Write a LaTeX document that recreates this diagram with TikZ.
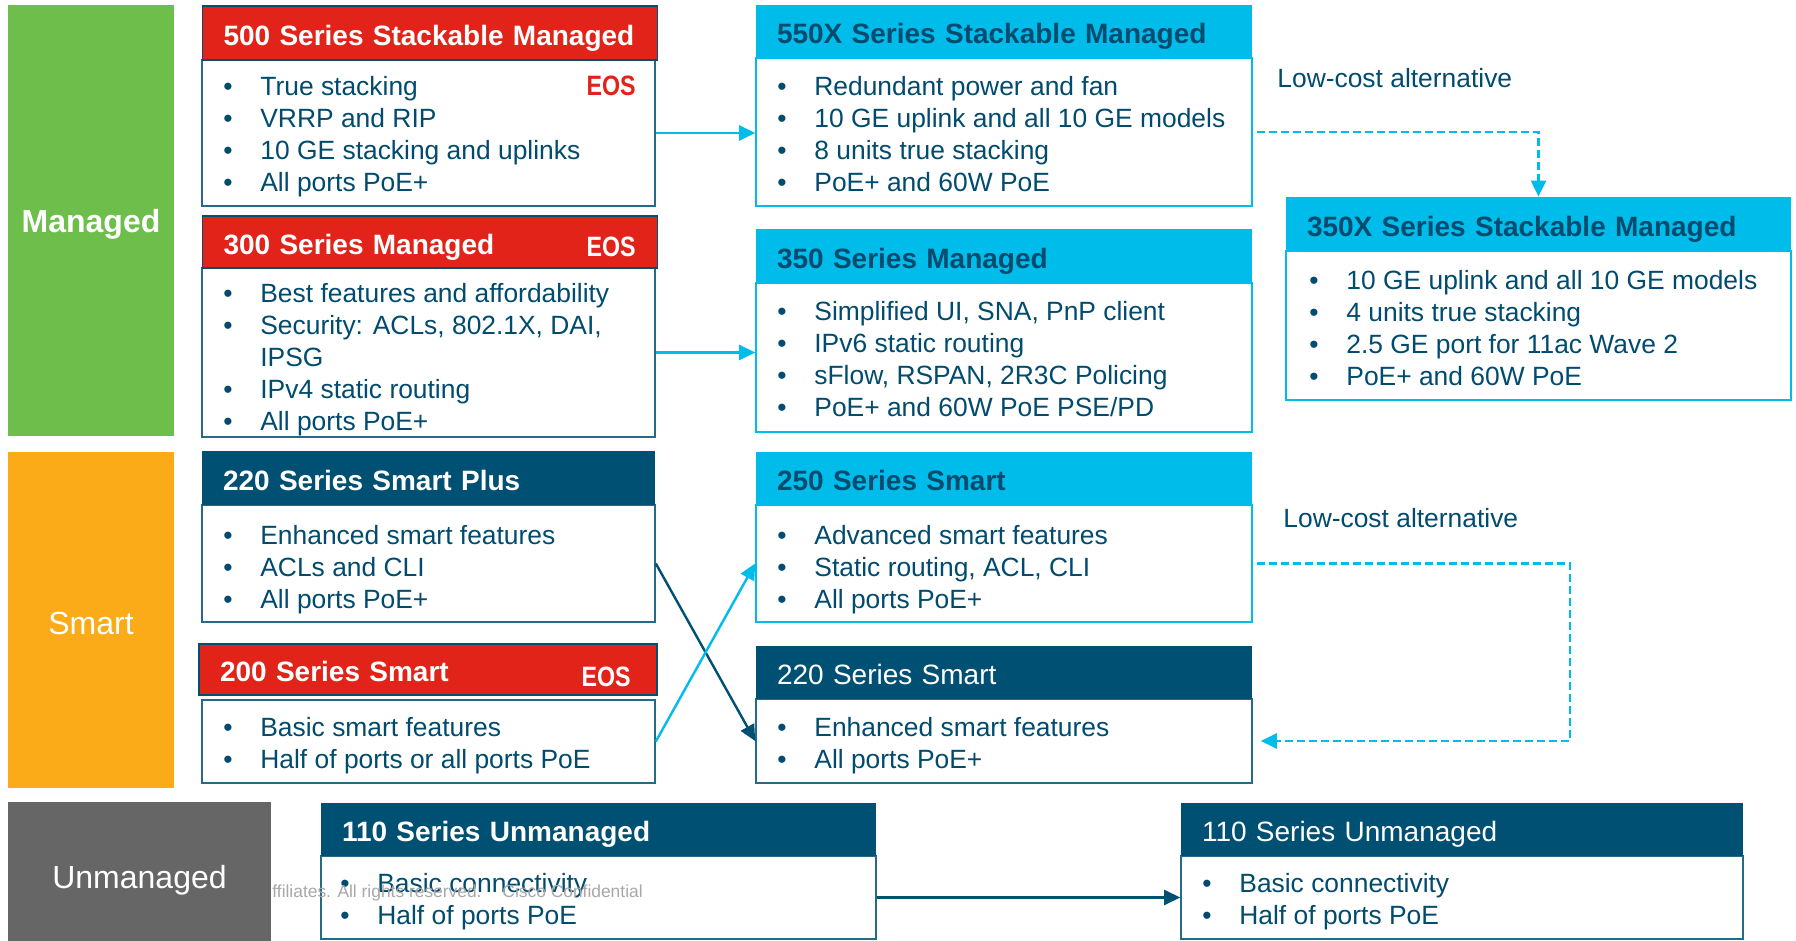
\documentclass[tikz,border=0pt]{standalone}
\usepackage{fontspec}
\setmainfont{Liberation Sans}
\usetikzlibrary{arrows.meta}
\definecolor{cred}{HTML}{E2231A}
\definecolor{ccyan}{HTML}{00BCEB}
\definecolor{cdark}{HTML}{005073}
\definecolor{ctext}{HTML}{004B6E}
\definecolor{cgreen}{HTML}{6DBE4B}
\definecolor{corange}{HTML}{FBAB18}
\definecolor{cgrey}{HTML}{666666}
\definecolor{cwm}{HTML}{A8A8A8}
\newcommand\bul[1]{\hbox{\makebox[18.5pt][l]{•}#1}}
\newcommand\cont[1]{\hbox{\hspace{18.5pt}#1}}
\begin{document}
\begin{tikzpicture}[x=0.5pt,y=-0.5pt,
  hdr/.style={inner xsep=10.5pt, inner ysep=0pt, align=left, text height=13.4pt, text depth=1pt, font=\fontsize{14}{16}\selectfont\bfseries},
  hdrred/.style={hdr, fill=cred, draw=cdark, line width=0.6pt, text=white},
  hdrcyan/.style={hdr, fill=ccyan, text=ctext},
  hdrdark/.style={hdr, fill=cdark, text=white},
  hdrdarkn/.style={hdrdark, font=\fontsize{14}{16}\selectfont},
  bodyd/.style={draw=cdark!85, line width=0.8pt, fill=white, inner sep=0pt},
  bodyc/.style={draw=ccyan, line width=0.8pt, fill=white, inner sep=0pt},
  blist/.style={inner sep=0pt, anchor=base west, text=ctext, font=\fontsize{13.2}{16}\selectfont},
  bar/.style={inner sep=0pt, text=white, font=\fontsize{16}{18}\selectfont},
  eos/.style={inner sep=0pt, anchor=base east, font=\fontsize{14}{16}\selectfont\bfseries, xscale=0.83},
  lbl/.style={inner sep=0pt, anchor=base west, text=ctext, font=\fontsize{13.2}{16}\selectfont},
  conn/.style={line width=1.2pt, -{Triangle[length=8pt,width=7.5pt]}},
  dconn/.style={line width=1.1pt, ccyan, dash pattern=on 4pt off 2pt, -{Triangle[length=8pt,width=7.5pt]}}
]
\useasboundingbox (0,0) rectangle (1796,941);
% side bars
\node[bar, fill=cgreen, minimum width=83pt, minimum height=215.5pt, font=\fontsize{16}{18}\selectfont\bfseries] (managed) at (91,220.5) {\raisebox{-1.7pt}[\height][\depth]{Managed}};
\node[bar, fill=corange, minimum width=83pt, minimum height=168pt] (smart) at (91,620) {\raisebox{-1.7pt}[\height][\depth]{Smart}};
\node[bar, fill=cgrey, minimum width=131.5pt, minimum height=69.5pt] (unmanaged) at (139.5,871.5) {\raisebox{-4.2pt}[\height][\depth]{Unmanaged}};
% bodies
\node[bodyd, minimum width=226.5pt, minimum height=73pt] (b500) at (428.5,133) {};
\node[bodyd, minimum width=226.5pt, minimum height=84.5pt] (b300) at (428.5,352.5) {};
\node[bodyd, minimum width=226.5pt, minimum height=58.5pt] (b220p) at (428.5,563.5) {};
\node[bodyd, minimum width=226.5pt, minimum height=41.5pt] (b200) at (428.5,741.5) {};
\node[bodyc, minimum width=248pt, minimum height=74pt] (b550) at (1004,132) {};
\node[bodyc, minimum width=248pt, minimum height=74.5pt] (b350) at (1004,357.5) {};
\node[bodyc, minimum width=248pt, minimum height=58.5pt] (b250) at (1004,563.5) {};
\node[bodyd, minimum width=248pt, minimum height=42pt] (b220s) at (1004,741) {};
\node[bodyc, minimum width=252.5pt, minimum height=74.5pt] (b350x) at (1538.5,325.5) {};
\node[bodyd, minimum width=277.5pt, minimum height=41.5pt] (b110l) at (598.5,897.5) {};
\node[bodyd, minimum width=281pt, minimum height=41.5pt] (b110r) at (1462,897.5) {};
% headers
\node[hdrred, text width=206.5pt, minimum height=27pt] (h500) at (430,33) {500 Series Stackable Managed};
\node[hdrred, text width=206.5pt, minimum height=26pt] (h300) at (430,242) {300 Series Managed};
\node[hdrdark, text width=205.5pt, minimum height=27pt] (h220p) at (428.5,478) {220 Series Smart Plus};
\node[hdrred, text width=208pt, minimum height=25.5pt] (h200) at (428,669.5) {200 Series Smart};
\node[hdrcyan, text width=227pt, minimum height=26.5pt] (h550) at (1004,31.5) {550X Series Stackable Managed};
\node[hdrcyan, text width=227pt, minimum height=27pt] (h350) at (1004,256) {350 Series Managed};
\node[hdrcyan, text width=227pt, minimum height=26.5pt] (h250) at (1004,478.5) {250 Series Smart};
\node[hdrdarkn, text width=227pt, minimum height=26.5pt] (h220s) at (1004,672.5) {220 Series Smart};
\node[hdrcyan, text width=231.5pt, minimum height=27pt] (h350x) at (1538.5,224) {350X Series Stackable Managed};
\node[hdrdark, text width=256.5pt, minimum height=26.5pt] (h110l) at (598.5,829.5) {110 Series Unmanaged};
\node[hdrdarkn, text width=260pt, minimum height=26.5pt] (h110r) at (1462,829.5) {110 Series Unmanaged};
% EOS marks
\node[eos, text=cred] (eos500) at (636,96) {EOS};
\node[eos, text=white] (eos300) at (636,257) {EOS};
\node[eos, text=white] (eos200) at (631,686) {EOS};
% bullet lists
\node[blist] (t500) at (223,95.5) {\vtop{\bul{True stacking}\bul{VRRP and RIP}\bul{10 GE stacking and uplinks}\bul{All ports PoE+}}};
\node[blist] (t300) at (223,302.5) {\vtop{\bul{Best features and affordability}\bul{Security: ACLs, 802.1X, DAI,}\cont{IPSG}\bul{IPv4 static routing}\bul{All ports PoE+}}};
\node[blist] (t220p) at (223,544.5) {\vtop{\bul{Enhanced smart features}\bul{ACLs and CLI}\bul{All ports PoE+}}};
\node[blist] (t200) at (223,736.5) {\vtop{\bul{Basic smart features}\bul{Half of ports or all ports PoE}}};
\node[blist] (t550) at (777,95.5) {\vtop{\bul{Redundant power and fan}\bul{10 GE uplink and all 10 GE models}\bul{8 units true stacking}\bul{PoE+ and 60W PoE}}};
\node[blist] (t350) at (777,320.5) {\vtop{\bul{Simplified UI, SNA, PnP client}\bul{IPv6 static routing}\bul{sFlow, RSPAN, 2R3C Policing}\bul{PoE+ and 60W PoE PSE/PD}}};
\node[blist] (t250) at (777,544.5) {\vtop{\bul{Advanced smart features}\bul{Static routing, ACL, CLI}\bul{All ports PoE+}}};
\node[blist] (t220s) at (777,736.5) {\vtop{\bul{Enhanced smart features}\bul{All ports PoE+}}};
\node[blist] (t350x) at (1309,289.5) {\vtop{\bul{10 GE uplink and all 10 GE models}\bul{4 units true stacking}\bul{2.5 GE port for 11ac Wave 2}\bul{PoE+ and 60W PoE}}};
\node[blist] (t110l) at (340,892.5) {\vtop{\bul{Basic connectivity}\bul{Half of ports PoE}}};
\node[blist] (t110r) at (1202,892.5) {\vtop{\bul{Basic connectivity}\bul{Half of ports PoE}}};
% labels
\node[lbl] (alt1) at (1277,88) {Low-cost alternative};
\node[lbl] (alt2) at (1283,528) {Low-cost alternative};
\node[inner sep=0pt, anchor=base west, text=cwm, font=\fontsize{8.7}{10}\selectfont] (wm) at (272,897) {ffiliates. All rights reserved.\hspace{1.2em}Cisco Confidential};
% connectors
\draw[conn, ccyan] (b500.east) -- (b500.east -| b550.west);
\draw[conn, ccyan] (b300.east) -- (b300.east -| b350.west);
\draw[conn, cdark] (b220p.east) -- (b220s.west);
\draw[conn, ccyan] (b200.east) -- (b250.west);
\draw[conn, cdark] (b110l.east) -- (b110r.west);
\draw[dconn] ([xshift=2pt]b550.east) -| (h350x.north);
\coordinate (turn) at (1570,650);
\draw[dconn] ([xshift=2pt]b250.east) -| (turn) |- ([xshift=4pt]b220s.east);
\end{tikzpicture}
\end{document}
